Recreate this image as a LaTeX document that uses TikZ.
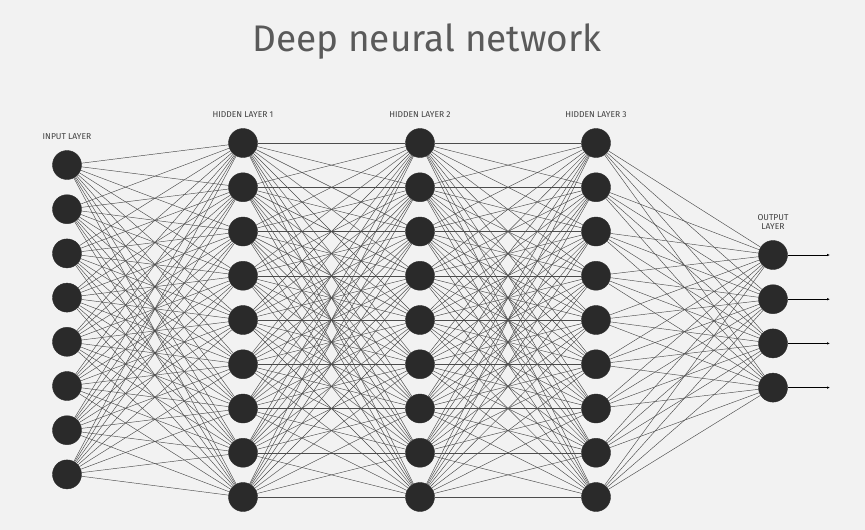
\documentclass[tikz,border=0pt]{standalone}
\usepackage{fontspec}
\setmainfont{Fira Sans}
\usetikzlibrary{arrows.meta}
\definecolor{bg}{HTML}{F2F2F2}
\definecolor{nd}{HTML}{2A2A2A}
\definecolor{ttl}{HTML}{5A5A5A}
\tikzset{
  neuron/.style={circle,fill=nd,draw=nd,minimum size=29pt,inner sep=0pt},
  edge/.style={draw=black!70,line width=0.45pt},
  lbl/.style={font=\fontsize{8.5}{9.5}\selectfont,text=black!75,align=center},
  outarr/.style={draw=black,line width=0.6pt,-{Latex[length=3pt,width=2.5pt]}}
}
\begin{document}
\begin{tikzpicture}[x=1pt,y=-1pt]
\fill[bg] (0,0) rectangle (865,530);
\useasboundingbox (0,0) rectangle (865,530);
\node[font=\fontsize{37}{40}\selectfont,text=ttl] (title) at (427,42) {Deep neural network};
\foreach \i in {1,...,8} \node[neuron] (a\i) at (67,{165+(\i-1)*44.2}) {};
\foreach \i in {1,...,9} {
  \node[neuron] (b\i) at (243,{143+(\i-1)*44.25}) {};
  \node[neuron] (c\i) at (420,{143+(\i-1)*44.25}) {};
  \node[neuron] (d\i) at (596,{143+(\i-1)*44.25}) {};
}
\foreach \i in {1,...,4} \node[neuron] (e\i) at (773,{255+(\i-1)*44.2}) {};
\foreach \i in {1,...,8} \foreach \j in {1,...,9} \path[edge] (a\i) -- (b\j);
\foreach \i in {1,...,9} \foreach \j in {1,...,9} {\path[edge] (b\i) -- (c\j); \path[edge] (c\i) -- (d\j);}
\foreach \i in {1,...,9} \foreach \j in {1,...,4} \path[edge] (d\i) -- (e\j);
\foreach \i in {1,...,4} {
  \coordinate (o\i) at (830,{255+(\i-1)*44.2});
  \draw[outarr] (e\i) -- (o\i);
}
\node[lbl] (la) at (67,137) {INPUT LAYER};
\node[lbl] (lb) at (243,115) {HIDDEN LAYER 1};
\node[lbl] (lc) at (420,115) {HIDDEN LAYER 2};
\node[lbl] (ld) at (596,115) {HIDDEN LAYER 3};
\node[lbl] (le) at (773,222) {OUTPUT\\LAYER};
\end{tikzpicture}
\end{document}
